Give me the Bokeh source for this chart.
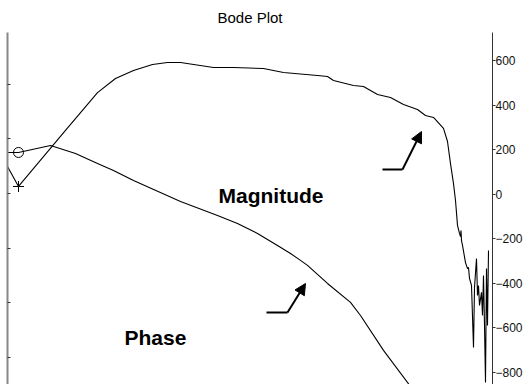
from bokeh.plotting import figure
from bokeh.models import Range1d, LinearAxis, FixedTicker, Label, Arrow, NormalHead, CustomJSTickFormatter
from bokeh.embed import file_html
from bokeh.resources import INLINE

# ---------------- data ----------------
mag_freq = [0, 11, 58, 90, 108, 126, 145, 160, 173, 206, 226, 256, 276, 310, 320, 326, 346, 356,
            370, 383, 396, 410, 418, 426, 436, 440, 443, 446, 448, 450, 452, 453, 453.5, 454, 455,
            458, 460, 461, 462, 464, 466, 467, 469, 470, 471, 472, 474, 475, 476, 477, 478, 479, 480, 481]
mag_vals = [126, 36, 288, 458, 521, 557, 584, 593, 593, 571, 571, 566, 548, 535, 530, 512, 490, 485,
            449, 436, 404, 382, 355, 346, 297, 238, 139, 49, -27, -139, -175, -189, -162, -207, -229,
            -306, -333, -328, -377, -409, -688, -418, -288, -454, -409, -499, -440, -544, -364, -589,
            -845, -333, -589, -252]

phase_freq = [0, 11, 43, 68, 90, 106, 126, 173, 210, 230, 250, 270, 283, 293, 300, 320, 343, 353,
              376, 406, 413]
phase_vals = [33.8, 33.8, 39.6, 33.0, 24.7, 19.0, 10.7, -6.6, -18.1, -24.7, -33.0, -42.9, -49.5,
              -55.2, -59.3, -74.2, -89.8, -100.6, -129.4, -162.4, -170.6]

mag_marker = ([11], [36])
phase_marker = ([11], [33.8])

mag_ticks = [-800, -600, -400, -200, 0, 200, 400, 600]
phase_ticks = [-135, -90, -45, 0, 45, 90]

# annotation texts and arrows (x, magnitude-axis units)
mag_label = ("Magnitude", 211, -4.5)
phase_label = ("Phase", 117, -643)
mag_arrow = ([375, 395], [112, 112], (414, 283))
phase_arrow = ([259, 280], [-530, -530], (298, -400))

FONT = "Liberation Sans"

p = figure(frame_width=485, frame_height=352, output_backend="svg", toolbar_location=None,
           x_range=Range1d(0, 485), y_range=Range1d(-854, 728),
           x_axis_location=None, y_axis_location=None, title="Bode Plot",
           min_border_left=7, min_border_bottom=0, min_border_top=32, min_border_right=0)
p.extra_y_ranges = {"phase": Range1d(-157.5, 132.7)}
p.outline_line_color = None
p.background_fill_color = "white"
p.border_fill_color = "white"

p.title.align = "center"
p.title.text_font = FONT
p.title.text_font_size = "15px"
p.title.text_font_style = "normal"
p.title.text_color = "black"
p.title.standoff = 13

# left (phase) axis: ticks only, no labels
la = LinearAxis(y_range_name="phase", ticker=FixedTicker(ticks=phase_ticks),
                formatter=CustomJSTickFormatter(code="return ''"))
la.axis_line_color = "#888888"
la.axis_line_width = 2
la.major_tick_in = 3
la.major_tick_out = 0
la.major_tick_line_color = "#333333"
la.minor_tick_line_color = None
la.major_label_standoff = 0
p.add_layout(la, "left")

# right (magnitude) axis
ra = LinearAxis(ticker=FixedTicker(ticks=mag_ticks))
ra.axis_line_color = "#333333"
ra.major_tick_in = 0
ra.major_tick_out = 3
ra.major_tick_line_color = "#333333"
ra.minor_tick_line_color = None
ra.major_label_standoff = 0
ra.major_label_text_font = FONT
ra.major_label_text_font_size = "12px"
ra.major_label_text_color = "#111111"
p.add_layout(ra, "right")

p.xgrid.visible = False
p.ygrid.visible = False

p.line(mag_freq, mag_vals, line_color="black", line_width=1.1)
p.line(phase_freq, phase_vals, line_color="black", line_width=1.1, y_range_name="phase")
p.scatter(mag_marker[0], mag_marker[1], marker="cross", size=11, line_color="black",
          line_width=1)
p.scatter(phase_marker[0], phase_marker[1], marker="circle", size=10, line_color="black",
          fill_color=None, line_width=1, y_range_name="phase")

for txt, x, y in (mag_label, phase_label):
    p.add_layout(Label(x=x, y=y, text=txt, text_font=FONT, text_font_size="21px",
                       text_font_style="bold", text_color="black",
                       text_baseline="alphabetic", text_align="left"))

for xs, ys, tip in (mag_arrow, phase_arrow):
    p.line(xs, ys, line_color="black", line_width=2)
    p.add_layout(Arrow(end=NormalHead(size=11, fill_color="black", line_color="black"),
                       x_start=xs[-1], y_start=ys[-1], x_end=tip[0], y_end=tip[1],
                       line_color="black", line_width=2))

open("out.html", "w").write(file_html(p, INLINE))
